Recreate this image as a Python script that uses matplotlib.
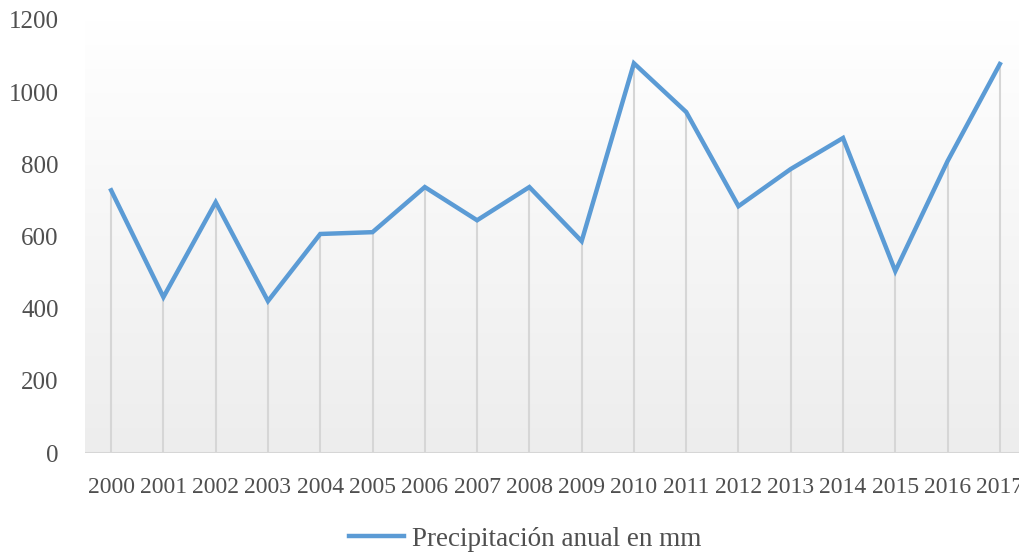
import numpy as np
import matplotlib
matplotlib.use("Agg")
import matplotlib.pyplot as plt

years = ["2000", "2001", "2002", "2003", "2004", "2005", "2006", "2007", "2008",
         "2009", "2010", "2011", "2012", "2013", "2014", "2015", "2016", "2017"]
precip_mm = [728, 432, 695, 421, 607, 612, 737, 645, 737,
             587, 1080, 945, 684, 787, 873, 504, 809, 1078]
y_ticks = [0, 200, 400, 600, 800, 1000, 1200]
series_label = "Precipitación anual en mm"

plt.rcParams["font.family"] = ["Liberation Serif", "DejaVu Serif"]
text_color = "#4f4f4f"
line_color = "#5B9BD5"

fig = plt.figure(figsize=(10.2, 5.53), dpi=100)
ax = fig.add_axes([85 / 1020, 100 / 553, 941 / 1020, 433 / 553])

x = np.arange(len(years))
ax.set_xlim(-0.5, len(years) - 0.5)
ax.set_ylim(0, 1200)

# vertical gradient background: white at top, light grey at bottom
grad = np.linspace(0, 1, 256).reshape(-1, 1)
cmap = matplotlib.colors.LinearSegmentedColormap.from_list("bg", ["#ffffff", "#ededed"])
ax.imshow(grad, extent=(-0.5, len(years) - 0.5, 0, 1200), aspect="auto",
          cmap=cmap, origin="upper", zorder=0)

ax.vlines(x, 0, precip_mm, color="#d6d6d6", linewidth=1.5, zorder=1)
ax.axhline(0, color="#d6d6d6", linewidth=1.5, zorder=1)
ax.plot(x, precip_mm, color=line_color, linewidth=3.2, label=series_label,
        solid_joinstyle="miter", zorder=3)

ax.set_xticks(x)
ax.set_xticklabels(years)
ax.set_yticks(y_ticks)
ax.tick_params(axis="both", length=0, colors=text_color)
ax.tick_params(axis="x", pad=17, labelsize=17)
ax.tick_params(axis="y", pad=19, labelsize=18)
for spine in ax.spines.values():
    spine.set_visible(False)

fig.legend(loc="center", bbox_to_anchor=(0.515, 0.025), frameon=False,
           fontsize=19.5, labelcolor=text_color, handlelength=2.0, handletextpad=0.3)

fig.savefig("out.png", dpi=100)
